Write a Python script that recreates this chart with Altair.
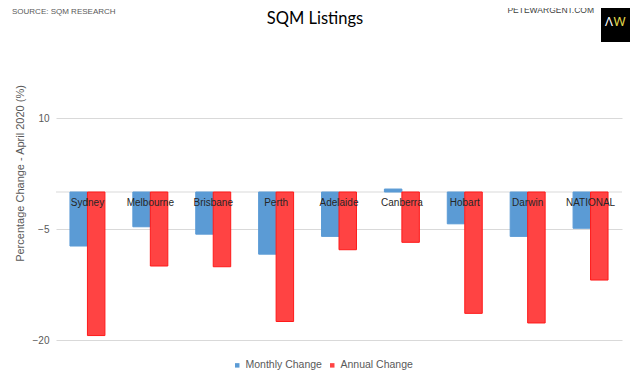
import altair as alt
import pandas as pd

cities = ["Sydney", "Melbourne", "Brisbane", "Perth", "Adelaide", "Canberra", "Hobart", "Darwin", "NATIONAL"]
monthly = [-7.3, -4.7, -5.7, -8.4, -6.0, 0.4, -4.3, -6.0, -4.9]
annual = [-19.4, -10.0, -10.1, -17.5, -7.8, -6.8, -16.4, -17.7, -11.9]
series_names = ["Monthly Change", "Annual Change"]
tick_values = [10, -5, -20]

rows = []
for c, m, a in zip(cities, monthly, annual):
    rows.append({"city": c, "series": "Monthly Change", "value": m})
    rows.append({"city": c, "series": "Annual Change", "value": a})
df = pd.DataFrame(rows)

W, H = 566, 222
FONT = "Liberation Sans"

xscale = alt.Scale(domain=cities, paddingInner=0.444, paddingOuter=0.222)
yscale = alt.Scale(domain=[-20, 10], nice=False)

zero = alt.Chart(pd.DataFrame({"z": [0]})).mark_rule(color="#d9d9d9", strokeWidth=1).encode(
    y=alt.datum(0, scale=yscale)
)

bars = alt.Chart(df).mark_bar(strokeWidth=1).encode(
    x=alt.X("city:N", scale=xscale, axis=None, sort=cities),
    xOffset=alt.XOffset("series:N", sort=series_names,
                        scale=alt.Scale(domain=series_names, paddingInner=0, paddingOuter=0)),
    y=alt.Y("value:Q", scale=yscale,
            title="Percentage Change - April 2020 (%)",
            axis=alt.Axis(values=tick_values, grid=True, gridColor="#d9d9d9", domain=False,
                          ticks=False, labelPadding=7, labelFontSize=10, labelColor="#595959",
                          labelFont=FONT, titleFont=FONT, titleFontSize=11, titleColor="#595959",
                          titleFontWeight="normal", titleX=-31, titleY=55)),
    color=alt.Color("series:N", sort=series_names,
                    scale=alt.Scale(domain=series_names, range=["#5B9BD5", "#FF4343"]),
                    legend=alt.Legend(title=None, orient="none", legendX=176, legendY=242,
                                      direction="horizontal", symbolType="square", symbolSize=20,
                                      labelFontSize=10.5, labelColor="#595959", labelFont=FONT,
                                      labelOffset=3, columnPadding=5, padding=0,
                                      symbolStrokeWidth=0)),
    stroke=alt.Stroke("series:N", sort=series_names,
                      scale=alt.Scale(domain=series_names, range=["#5B9BD5", "#FF1A1A"]),
                      legend=None),
)

labels = alt.Chart(pd.DataFrame({"city": cities})).mark_text(
    dy=11, fontSize=10, font=FONT, color="#262626", baseline="middle"
).encode(
    x=alt.X("city:N", scale=xscale, axis=None, sort=cities),
    y=alt.datum(0, scale=yscale),
    text="city:N",
)

title = alt.Chart(pd.DataFrame({"t": ["SQM Listings"]})).mark_text(
    font="Lato", fontSize=16.5, color="#000000", align="center", baseline="middle"
).encode(x=alt.value(259), y=alt.value(-99), text="t:N")

source = alt.Chart(pd.DataFrame({"t": ["SOURCE: SQM RESEARCH"]})).mark_text(
    font=FONT, fontSize=8, color="#595959", align="left", baseline="middle"
).encode(x=alt.value(-44), y=alt.value(-106), text="t:N")

site = alt.Chart(pd.DataFrame({"t": ["PETEWARGENT.COM"]})).mark_text(
    font=FONT, fontSize=8.5, color="#404040", align="right", baseline="middle"
).encode(x=alt.value(538), y=alt.value(-108), text="t:N")

logo_box = alt.Chart(pd.DataFrame({"k": [1]})).mark_rect(color="#000000").encode(
    x=alt.value(545), x2=alt.value(574), y=alt.value(-117), y2=alt.value(-76)
)
logo_a = alt.Chart(pd.DataFrame({"t": ["Λ"]})).mark_text(
    font="Noto Sans", fontSize=13, color="#ffffff", align="right", baseline="middle"
).encode(x=alt.value(557), y=alt.value(-96.5), text="t:N")
logo_w = alt.Chart(pd.DataFrame({"t": ["W"]})).mark_text(
    font="Noto Sans", fontSize=13, color="#e0d84a", align="left", baseline="middle"
).encode(x=alt.value(557.5), y=alt.value(-96.5), text="t:N")

chart = alt.layer(zero, bars, labels, title, source, site, logo_box, logo_a, logo_w).properties(
    width=W, height=H,
    autosize=alt.AutoSizeParams(type="none"),
    padding={"left": 48, "top": 110, "right": 10, "bottom": 33},
).configure_view(stroke=None)

chart.save("out.html", embed_options={"renderer": "svg", "actions": False})
